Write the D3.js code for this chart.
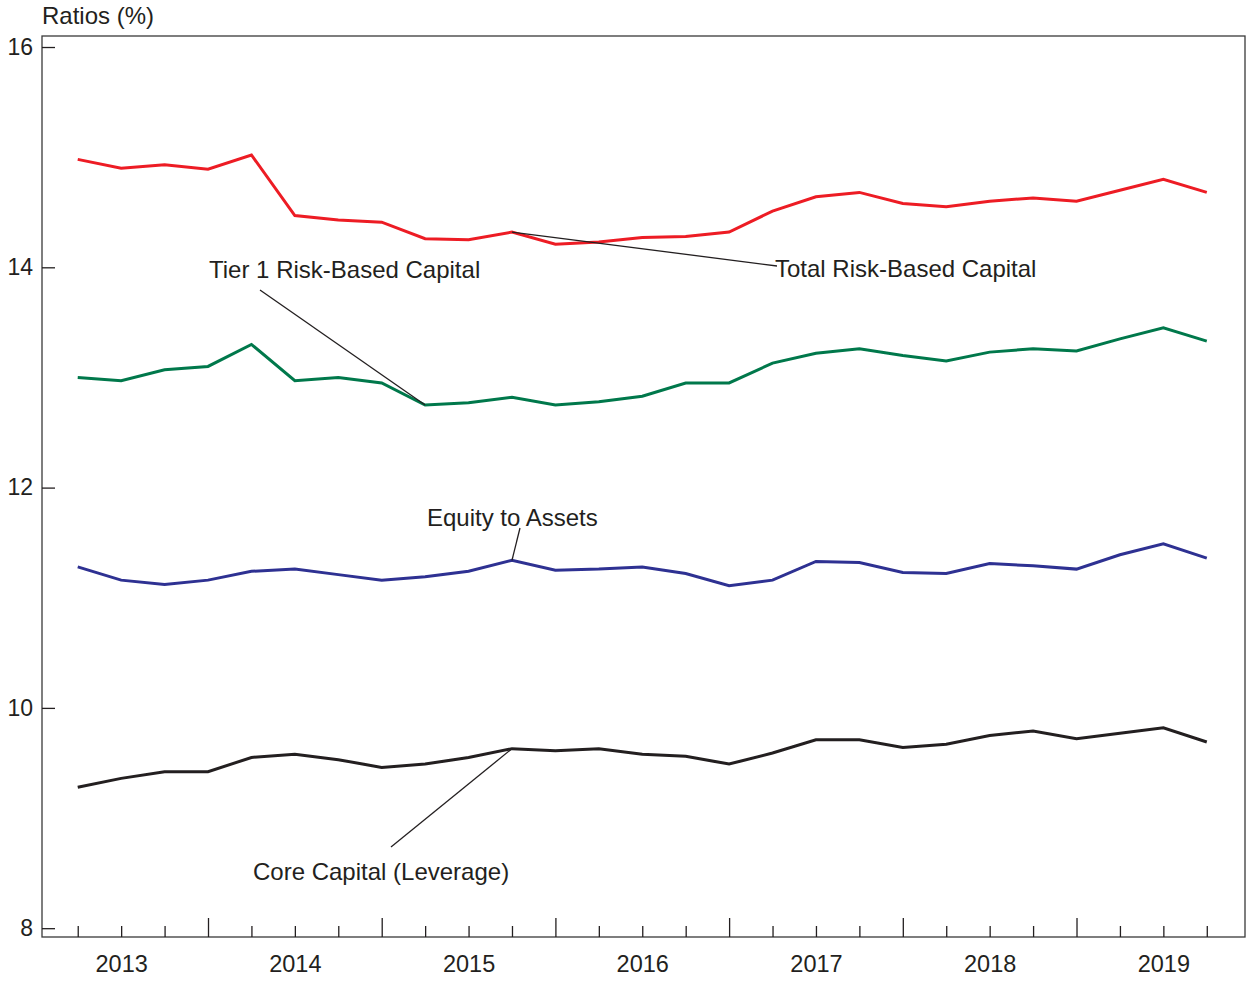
<!DOCTYPE html>
<html>
<head>
<meta charset="utf-8">
<script src="https://cdn.jsdelivr.net/npm/d3@7"></script>
<style>
  html, body { margin: 0; padding: 0; background: #fff; }
  svg { display: block; }
  text { font-family: "Liberation Sans", Arial, Helvetica, sans-serif; fill: #231f20; }
</style>
</head>
<body>
<svg id="chart" width="1246" height="981"></svg>
<script>
// ---- Data (quarter-end observations) ----
const quarters = ["2013Q1","2013Q2","2013Q3","2013Q4","2014Q1","2014Q2","2014Q3","2014Q4",
                  "2015Q1","2015Q2","2015Q3","2015Q4","2016Q1","2016Q2","2016Q3","2016Q4",
                  "2017Q1","2017Q2","2017Q3","2017Q4","2018Q1","2018Q2","2018Q3","2018Q4",
                  "2019Q1","2019Q2","2019Q3"];
const totalRBC     = [14.98,14.90,14.93,14.89,15.02,14.47,14.43,14.41,14.26,14.25,14.32,14.21,14.23,14.27,14.28,14.32,14.51,14.64,14.68,14.58,14.55,14.60,14.63,14.60,14.70,14.80,14.68];
const tier1RBC     = [13.00,12.97,13.07,13.10,13.30,12.97,13.00,12.95,12.75,12.77,12.82,12.75,12.78,12.83,12.95,12.95,13.13,13.22,13.26,13.20,13.15,13.23,13.26,13.24,13.35,13.45,13.33];
const equityAssets = [11.28,11.16,11.12,11.16,11.24,11.26,11.21,11.16,11.19,11.24,11.34,11.25,11.26,11.28,11.22,11.11,11.16,11.33,11.32,11.23,11.22,11.31,11.29,11.26,11.39,11.49,11.36];
const coreCapital  = [9.28,9.36,9.42,9.42,9.55,9.58,9.53,9.46,9.49,9.55,9.63,9.61,9.63,9.58,9.56,9.49,9.59,9.71,9.71,9.64,9.67,9.75,9.79,9.72,9.77,9.82,9.69];
const yTicks = [8, 10, 12, 14, 16];
const yearLabels = ["2013","2014","2015","2016","2017","2018","2019"];
const yAxisTitle = "Ratios (%)";
const seriesNames = ["Total Risk-Based Capital","Tier 1 Risk-Based Capital","Equity to Assets","Core Capital (Leverage)"];
const seriesColors = ["#ed1c24","#00784b","#2e3192","#231f20"];

// ---- Layout ----
const M = { left: 42, right: 1245, top: 36, bottom: 937 };
const FS = 24;
const svg = d3.select("#chart");

const qTime = q => +q.slice(0,4) + (+q.slice(5)) / 4; // quarter end as fractional year
const x = d3.scaleLinear().domain([2013.0443, 2019.970]).range([M.left, M.right]);
const y = d3.scaleLinear().domain([7.92, 16.1]).range([M.bottom, M.top]);

// frame
svg.append("rect").attr("x", M.left).attr("y", M.top).attr("width", M.right - M.left).attr("height", M.bottom - M.top)
  .attr("fill", "none").attr("stroke", "#3a3a3a").attr("stroke-width", 1.3);

// y axis ticks (inward) + labels
const yAxis = d3.axisLeft(y).tickValues(yTicks).tickSize(-13).tickPadding(22).tickFormat(d3.format("d"));
const gy = svg.append("g").attr("transform", `translate(${M.left},0)`).call(yAxis);
gy.select(".domain").remove();
gy.selectAll("line").attr("stroke", "#231f20").attr("stroke-width", 1.3);
gy.selectAll("text").attr("font-size", 23).attr("font-family", "'Liberation Sans', Arial, sans-serif").attr("fill", "#231f20").attr("x", -9);

// x axis: quarterly ticks (short), year-end ticks (tall), year labels centred on years
const qTimes = quarters.map(qTime);
const xAxisQ = d3.axisBottom(x).tickValues(qTimes.filter(t => Math.abs(t - Math.round(t)) > 1e-6)).tickSize(-11).tickFormat("");
const gxq = svg.append("g").attr("transform", `translate(0,${M.bottom})`).call(xAxisQ);
gxq.select(".domain").remove();
gxq.selectAll("line").attr("stroke", "#231f20").attr("stroke-width", 1.3);

const yearBounds = d3.range(2014, 2020);
const xAxisY = d3.axisBottom(x).tickValues(yearBounds).tickSize(-19).tickFormat("");
const gxy = svg.append("g").attr("transform", `translate(0,${M.bottom})`).call(xAxisY);
gxy.select(".domain").remove();
gxy.selectAll("line").attr("stroke", "#231f20").attr("stroke-width", 1.3);

const xAxisL = d3.axisBottom(x).tickValues(yearLabels.map(s => +s + 0.5)).tickSize(0).tickPadding(18)
  .tickFormat((d, i) => yearLabels[i]);
const gxl = svg.append("g").attr("transform", `translate(0,${M.bottom})`).call(xAxisL);
gxl.select(".domain").remove();
gxl.selectAll("text").attr("font-size", 23.5).attr("font-family", "'Liberation Sans', Arial, sans-serif").attr("fill", "#231f20");

// axis title
svg.append("text").attr("x", 42).attr("y", 24).attr("font-size", FS).text(yAxisTitle);

// lines
const allSeries = [totalRBC, tier1RBC, equityAssets, coreCapital];
const line = d3.line().x((d, i) => x(qTimes[i])).y(d => y(d));
allSeries.forEach((s, k) => {
  svg.append("path").datum(s).attr("d", line).attr("fill", "none")
    .attr("stroke", seriesColors[k]).attr("stroke-width", 3).attr("stroke-linejoin", "miter");
});

// labels with leader lines
const labels = [
  { name: seriesNames[0], tx: 775, ty: 277, data: totalRBC, idx: 10, lx: 777, ly: 266 },
  { name: seriesNames[1], tx: 209, ty: 278, data: tier1RBC, idx: 8, lx: 260, ly: 290 },
  { name: seriesNames[2], tx: 427, ty: 526, data: equityAssets, idx: 10, lx: 520, ly: 528 },
  { name: seriesNames[3], tx: 253, ty: 880, data: coreCapital, idx: 10, lx: 391, ly: 847 }
];
labels.forEach(l => {
  svg.append("line").attr("x1", l.lx).attr("y1", l.ly)
    .attr("x2", x(qTimes[l.idx])).attr("y2", y(l.data[l.idx]))
    .attr("stroke", "#231f20").attr("stroke-width", 1.3);
  svg.append("text").attr("x", l.tx).attr("y", l.ty).attr("font-size", FS).text(l.name);
});
</script>
</body>
</html>
